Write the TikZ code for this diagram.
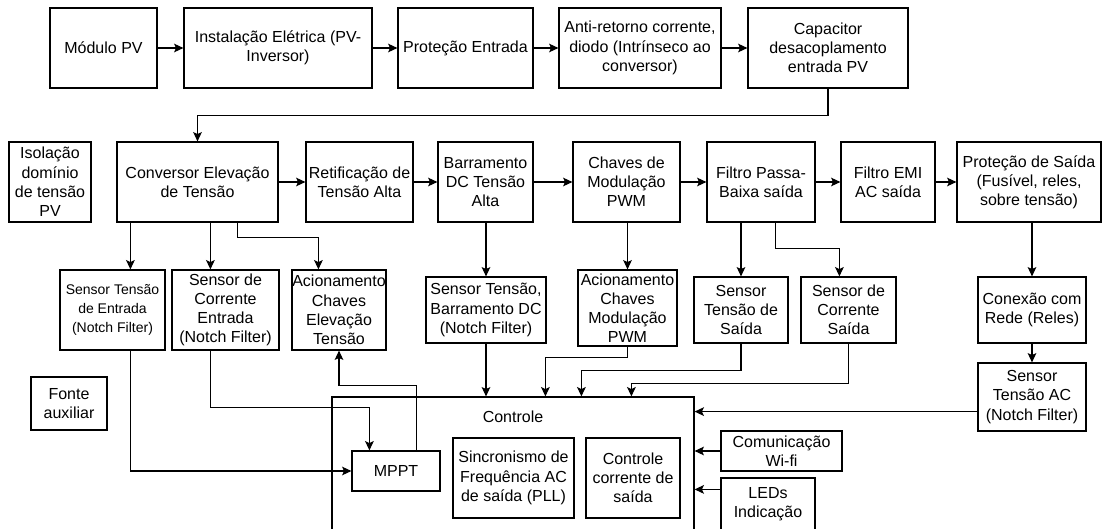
\documentclass[tikz,border=0pt]{standalone}
\usepackage{fontspec}
\setmainfont{Liberation Sans}
\usetikzlibrary{arrows.meta,calc}

\tikzset{
  blk/.style={draw, line width=0.9pt, align=center, inner sep=0pt,
    font=\fontsize{12}{14.4}\selectfont},
  small/.style={font=\fontsize{10.5}{14.4}\selectfont},
  arr/.style={line width=0.9pt, -{Stealth[length=7pt,width=6.5pt,inset=1.5pt]}},
}
% \blk[options]{name}{x1}{y1}{x2}{y2}{text}: box given by its corners (px)
\newcommand{\blk}[7][]{%
  \node[blk,#1,minimum width={(#5-#3)*0.75pt},minimum height={(#6-#4)*0.75pt}]
    (#2) at ({(#3+#5)/2},{(#4+#6)/2}) {#7};}

\begin{document}
\begin{tikzpicture}[x=0.75pt,y=-0.75pt]
\useasboundingbox (0,0) rectangle (1105,528);
\clip (0,0) rectangle (1105,528);

% input chain
\blk{mod}{50}{8}{157}{88}{Módulo PV}
\blk{inst}{184}{8}{372}{88}{Instalação Elétrica (PV-\\Inversor)}
\blk{prot}{398}{8}{533}{88}{Proteção Entrada}
\blk{anti}{559}{8}{721}{88}{Anti-retorno corrente,\\diodo (Intrínseco ao\\conversor)}
\blk{cap}{748}{8}{908}{88}{Capacitor\\desacoplamento\\entrada PV}

% power stage
\blk{iso}{9}{142}{91}{222}{Isolação\\domínio\\de tensão\\PV}
\blk{conv}{117}{142}{278}{222}{Conversor Elevação\\de Tensão}
\blk{ret}{306}{142}{413}{222}{Retificação de\\Tensão Alta}
\blk{bar}{438}{142}{533}{222}{Barramento\\DC Tensão\\Alta}
\blk{chv}{573}{142}{680}{222}{Chaves de\\Modulação\\PWM}
\blk{fpb}{707}{142}{815}{222}{Filtro Passa-\\Baixa saída}
\blk{emi}{841}{142}{935}{222}{Filtro EMI\\AC saída}
\blk{prs}{957}{142}{1101}{222}{Proteção de Saída\\(Fusível, reles,\\sobre tensão)}

% sensors and drivers
\blk[small]{ste}{60}{270}{165}{350}{Sensor Tensão\\de Entrada\\(Notch Filter)}
\blk{scor}{172}{270}{279}{350}{Sensor de\\Corrente\\Entrada\\(Notch Filter)}
\blk{acel}{292}{270}{386}{350}{Acionamento\\Chaves\\Elevação\\Tensão}
\blk{sbar}{426}{277}{546}{343}{Sensor Tensão,\\Barramento DC\\(Notch Filter)}
\blk{apwm}{578}{270}{677}{346}{Acionamento\\Chaves\\Modulação\\PWM}
\blk{sts}{694}{277}{788}{343}{Sensor\\Tensão de\\Saída}
\blk{scs}{801}{277}{896}{343}{Sensor de\\Corrente\\Saída}
\blk{con}{978}{277}{1086}{343}{Conexão com\\Rede (Reles)}
\blk{sac}{978}{363}{1086}{431}{Sensor\\Tensão AC\\(Notch Filter)}
\blk{fonte}{31}{377}{107}{430}{Fonte\\auxiliar}

% control block
\blk{ctrl}{332}{397}{694}{545}{}
\node[blk, draw=none] (ctrllbl) at ($(ctrl.north)+(0,20)$) {Controle};
\blk{mppt}{352}{451}{440}{491}{MPPT}
\blk{sinc}{453}{438}{574}{518}{Sincronismo de\\Frequência AC\\de saída (PLL)}
\blk{ccor}{586}{438}{680}{518}{Controle\\corrente de\\saída}
\blk{wifi}{721}{431}{842}{471}{Comunicação\\Wi-fi}
\blk{leds}{721}{478}{815}{531}{LEDs\\Indicação}

% branch points
\coordinate (c1) at ($(conv.south west)+(14,0)$);
\coordinate (c2) at ($(conv.south west)+(94,0)$);
\coordinate (c3) at ($(conv.south west)+(121,0)$);
\coordinate (c4) at ($(mppt.north west)+(18,0)$);
\coordinate (c5) at ($(mppt.north west)+(65,0)$);
\coordinate (a1) at ($(acel.north west)+(27,0)$);
\coordinate (f1) at ($(fpb.south west)+(69,0)$);
\coordinate (f2) at ($(scs.north west)+(39,0)$);
\coordinate (k1) at ($(ctrl.north west)+(214,0)$);
\coordinate (k2) at ($(ctrl.north west)+(250,0)$);
\coordinate (k3) at ($(ctrl.north west)+(300,0)$);
\coordinate (k4) at ($(leds.north west)+(0,12)$);
\coordinate (k5) at ($(sac.south west)+(0,-20)$);

% input chain connectors
\draw[arr] (mod) -- (inst);
\draw[arr] (inst) -- (prot);
\draw[arr] (prot) -- (anti);
\draw[arr] (anti) -- (cap);
\draw[arr] (cap.south) -- ++(0,27) -| (conv.north);

% power stage connectors
\draw[arr] (conv) -- (ret);
\draw[arr] (ret) -- (bar);
\draw[arr] (bar) -- (chv);
\draw[arr] (chv) -- (fpb);
\draw[arr] (fpb) -- (emi);
\draw[arr] (emi) -- (prs);

% to sensors and drivers
\draw[arr] (c1) -- (c1 |- ste.north);
\draw[arr] (c2) -- (c2 |- scor.north);
\draw[arr] (c3) -- ++(0,15) -| (a1);
\draw[arr] (bar.south -| sbar.north) -- (sbar.north);
\draw[arr] (chv.south -| apwm.north) -- (apwm.north);
\draw[arr] (fpb.south -| sts.north) -- (sts.north);
\draw[arr] (f1) -- ++(0,26) -| (f2);
\draw[arr] (prs.south -| con.north) -- (con.north);
\draw[arr] (con) -- (sac);

% measurements into control
\draw[arr] (c1 |- ste.south) |- (mppt.west);
\draw[arr] (c2 |- scor.south) -- ++(0,57) -| (c4);
\draw[arr] (c5) -- ++(0,-65) -| (acel.south);
\draw[arr] (sbar.south) -- (sbar.south |- ctrl.north);
\draw[arr] (apwm.south) -- ++(0,11) -| (k1);
\draw[arr] (sts.south) -- ++(0,27) -| (k2);
\draw[arr] (scs.south) -- ++(0,40) -| (k3);
\draw[arr] (k5) -- (k5 -| ctrl.east);
\draw[arr] (wifi.west) -- (wifi.west -| ctrl.east);
\draw[arr] (k4) -- (k4 -| ctrl.east);
\end{tikzpicture}
\end{document}
